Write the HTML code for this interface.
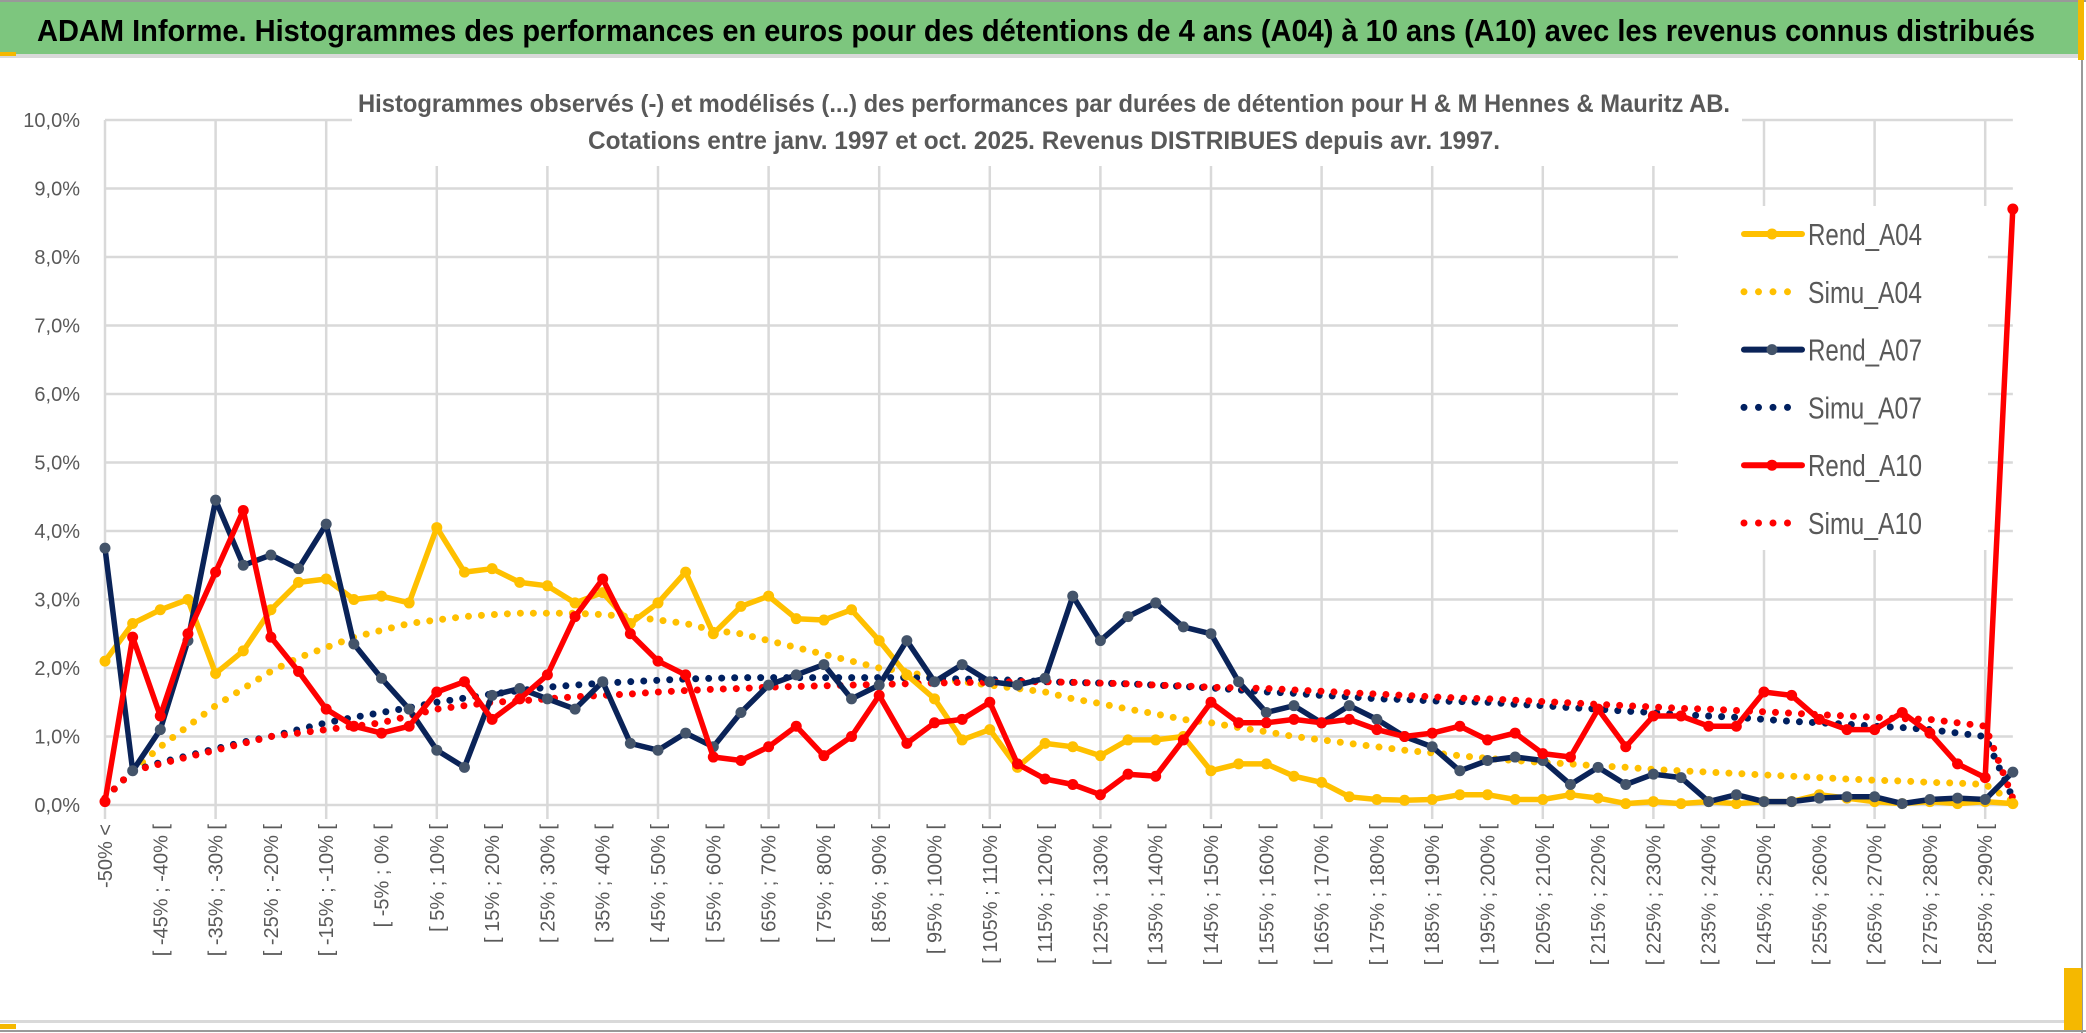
<!DOCTYPE html>
<html><head><meta charset="utf-8"><style>
html,body{margin:0;padding:0;background:#fff}
#wrap{position:relative;width:2086px;height:1033px;overflow:hidden;background:#fff}
svg text{font-family:"Liberation Sans",sans-serif}
</style></head><body>
<div id="wrap">
<svg id="chart" width="2086" height="1033" viewBox="0 0 2086 1033">
<rect x="0" y="0" width="2086" height="1033" fill="#fff"/>
<rect x="0" y="2" width="2082" height="52" fill="#7dc67e"/>
<line x1="0" y1="1" x2="2086" y2="1" stroke="#999" stroke-width="2"/>
<rect x="0" y="54" width="2082" height="4" fill="#d9d9d9"/>
<rect x="0" y="52" width="16" height="4" fill="#f5b800"/>
<line x1="2082" y1="0" x2="2082" y2="1033" stroke="#999" stroke-width="2"/>
<rect x="2078" y="0" width="6" height="60" fill="#f5b800"/>
<rect x="0" y="1020" width="2078" height="3" fill="#d9d9d9"/>
<rect x="2064" y="968" width="18" height="62" fill="#f5b800"/>
<rect x="0" y="1024" width="16" height="5" fill="#f5b800"/>
<line x1="0" y1="1031" x2="2086" y2="1031" stroke="#999" stroke-width="2"/>
<text x="37" y="41" font-size="31" font-weight="bold" fill="#000" textLength="1998" lengthAdjust="spacingAndGlyphs">ADAM Informe. Histogrammes des performances en euros pour des détentions de 4 ans (A04) à 10 ans (A10) avec les revenus connus distribués</text>
<g id="grid"></g>
<rect x="352" y="80" width="1390" height="86" fill="#fff"/>
<text x="1044" y="112" font-size="25" font-weight="bold" fill="#595959" text-anchor="middle" textLength="1372" lengthAdjust="spacingAndGlyphs">Histogrammes observés (-) et modélisés (...) des performances par durées de détention pour H &amp; M Hennes &amp; Mauritz AB.</text>
<text x="1044" y="149" font-size="25" font-weight="bold" fill="#595959" text-anchor="middle" textLength="912" lengthAdjust="spacingAndGlyphs">Cotations entre janv. 1997 et oct. 2025. Revenus DISTRIBUES depuis avr. 1997.</text>
<g id="yaxis"></g>
<g id="xaxis"></g>
<rect x="1678" y="206" width="310" height="344" fill="#fff"/>
<g id="series"></g>
<g id="legend"></g>
</svg>
</div>
<script>
const yTicks = [0,1,2,3,4,5,6,7,8,9,10];
const yTickLabels = ["0,0%","1,0%","2,0%","3,0%","4,0%","5,0%","6,0%","7,0%","8,0%","9,0%","10,0%"];
const categories = (function(){const a=["-50% <"];for(let k=-50;k<=290;k+=5){a.push("[ "+k+"% ; "+(k+5)+"% [");}return a;})();
const rendA04 = [2.1,2.65,2.85,3.0,1.92,2.25,2.85,3.25,3.3,3.0,3.05,2.95,4.05,3.4,3.45,3.25,3.2,2.95,3.1,2.65,2.95,3.4,2.5,2.9,3.05,2.72,2.7,2.85,2.4,1.9,1.55,0.95,1.1,0.55,0.9,0.85,0.72,0.95,0.95,1.0,0.5,0.6,0.6,0.42,0.33,0.12,0.08,0.07,0.08,0.15,0.15,0.08,0.08,0.15,0.1,0.02,0.05,0.02,0.05,0.02,0.05,0.05,0.15,0.1,0.05,0.02,0.05,0.02,0.05,0.02];
const simuA04 = [0.1,0.5,0.85,1.15,1.45,1.7,1.95,2.15,2.3,2.45,2.55,2.65,2.7,2.75,2.78,2.8,2.8,2.8,2.78,2.75,2.7,2.65,2.55,2.5,2.4,2.3,2.2,2.1,2.0,1.95,1.85,1.8,1.75,1.7,1.65,1.55,1.48,1.4,1.33,1.25,1.2,1.13,1.07,1.0,0.95,0.9,0.85,0.8,0.76,0.72,0.68,0.65,0.62,0.6,0.57,0.55,0.52,0.5,0.48,0.46,0.44,0.42,0.4,0.38,0.36,0.35,0.33,0.32,0.3,0.05];
const rendA07 = [3.75,0.5,1.1,2.4,4.45,3.5,3.65,3.45,4.1,2.35,1.85,1.4,0.8,0.55,1.6,1.7,1.55,1.4,1.8,0.9,0.8,1.05,0.85,1.35,1.75,1.9,2.05,1.55,1.75,2.4,1.8,2.05,1.8,1.75,1.85,3.05,2.4,2.75,2.95,2.6,2.5,1.8,1.35,1.45,1.2,1.45,1.25,1.0,0.85,0.5,0.65,0.7,0.65,0.3,0.55,0.3,0.45,0.4,0.05,0.15,0.05,0.05,0.1,0.12,0.12,0.02,0.08,0.1,0.08,0.48];
const simuA07 = [0.1,0.5,0.62,0.72,0.82,0.92,1.0,1.1,1.2,1.28,1.35,1.42,1.5,1.56,1.62,1.67,1.72,1.75,1.78,1.8,1.82,1.84,1.85,1.86,1.86,1.86,1.86,1.86,1.86,1.86,1.85,1.84,1.83,1.82,1.8,1.79,1.78,1.77,1.75,1.73,1.71,1.68,1.65,1.63,1.6,1.58,1.55,1.54,1.52,1.51,1.5,1.47,1.45,1.42,1.4,1.37,1.35,1.32,1.3,1.28,1.25,1.22,1.2,1.18,1.15,1.13,1.1,1.05,1.0,0.1];
const rendA10 = [0.05,2.45,1.3,2.5,3.4,4.3,2.45,1.95,1.4,1.15,1.05,1.15,1.65,1.8,1.25,1.55,1.9,2.75,3.3,2.5,2.1,1.9,0.7,0.65,0.85,1.15,0.72,1.0,1.6,0.9,1.2,1.25,1.5,0.6,0.38,0.3,0.15,0.45,0.42,0.95,1.5,1.2,1.2,1.25,1.2,1.25,1.1,1.0,1.05,1.15,0.95,1.05,0.75,0.7,1.4,0.85,1.3,1.3,1.15,1.15,1.65,1.6,1.25,1.1,1.1,1.35,1.05,0.6,0.4,8.7];
const simuA10 = [0.1,0.5,0.6,0.7,0.8,0.9,1.0,1.05,1.1,1.15,1.2,1.3,1.4,1.45,1.5,1.52,1.55,1.58,1.6,1.62,1.65,1.67,1.69,1.7,1.72,1.73,1.74,1.75,1.76,1.77,1.78,1.79,1.79,1.8,1.8,1.79,1.78,1.77,1.75,1.74,1.72,1.71,1.7,1.68,1.66,1.64,1.62,1.6,1.58,1.56,1.55,1.53,1.51,1.49,1.47,1.45,1.43,1.41,1.4,1.38,1.36,1.34,1.32,1.3,1.28,1.26,1.25,1.2,1.15,0.1];

const NS="http://www.w3.org/2000/svg";
const X0=105, DX=27.65, Y0=805, PER=68.5;
function xs(i){return X0+i*DX;}
function ys(v){return Y0-v*PER;}
function mk(tag,attrs,parent){const e=document.createElementNS(NS,tag);for(const k in attrs)e.setAttribute(k,attrs[k]);parent.appendChild(e);return e;}

const grid=document.getElementById('grid');
const xEnd=xs(categories.length-1);
yTicks.forEach(function(t){
  const l=mk('line',{x1:X0,x2:xEnd,y1:ys(t),y2:ys(t),stroke:'#d9d9d9','stroke-width':2.5},grid);
  
  
});
for(let i=0;i<categories.length;i+=4){
  const l=mk('line',{x1:xs(i),x2:xs(i),y1:ys(10),y2:ys(0)+14,stroke:'#d9d9d9','stroke-width':2.5},grid);
  
  
}
const ya=document.getElementById('yaxis');
yTicks.forEach(function(t,k){
  const tx=mk('text',{x:80,y:ys(t)+7,'font-size':20,fill:'#595959','text-anchor':'end'},ya);
  tx.textContent=yTickLabels[k];
  
  
});
const xa=document.getElementById('xaxis');
categories.forEach(function(c,i){
  if(!(i===0||(i%2===0&&i<categories.length-1)))return;
  const x=xs(i)+7, y=824;
  const tx=mk('text',{x:x,y:y,'font-size':20,fill:'#595959','text-anchor':'end',transform:'rotate(-90 '+x+' '+y+')'},xa);
  tx.textContent=c;
  
  
});
const sg=document.getElementById('series');
function pts(arr){return arr.map(function(v,i){return xs(i).toFixed(1)+','+ys(v).toFixed(1);}).join(' ');}
function dotted(arr,color,name){
  const p=mk('polyline',{points:pts(arr),fill:'none',stroke:color,'stroke-width':7,'stroke-linecap':'round','stroke-dasharray':'0 13'},sg);
  
  
}
function solid(arr,color,mcolor,name){
  const g=mk('g',{},sg);
  
  
  mk('polyline',{points:pts(arr),fill:'none',stroke:color,'stroke-width':5.5,'stroke-linejoin':'round'},g);
  arr.forEach(function(v,i){
    const c=mk('circle',{cx:xs(i),cy:ys(v),r:5.5,fill:mcolor},g);
    
    
  });
}
dotted(simuA04,'#ffc000','simu-a04-line');
dotted(simuA07,'#002060','simu-a07-line');
dotted(simuA10,'#ff0000','simu-a10-line');
solid(rendA04,'#ffc000','#ffc000','rend-a04-line');
solid(rendA07,'#0a2358','#44546a','rend-a07-line');
solid(rendA10,'#ff0000','#ff0000','rend-a10-line');

const lg=document.getElementById('legend');
const items=[["Rend_A04",'#ffc000','#ffc000',false],["Simu_A04",'#ffc000',null,true],["Rend_A07",'#0a2358','#44546a',false],["Simu_A07",'#002060',null,true],["Rend_A10",'#ff0000','#ff0000',false],["Simu_A10",'#ff0000',null,true]];
items.forEach(function(it,k){
  const y=234+k*57.8;
  const g=mk('g',{},lg);
  
  
  if(it[3]){
    mk('line',{x1:1744,x2:1800,y1:y,y2:y,stroke:it[1],'stroke-width':7,'stroke-linecap':'round','stroke-dasharray':'0 14.5'},g);
  } else {
    mk('line',{x1:1744,x2:1802,y1:y,y2:y,stroke:it[1],'stroke-width':6,'stroke-linecap':'round'},g);
    mk('circle',{cx:1772,cy:y,r:5.5,fill:it[2]},g);
  }
  const t=mk('text',{x:1808,y:y+11,'font-size':31,fill:'#595959',textLength:114,lengthAdjust:'spacingAndGlyphs'},g);
  t.textContent=it[0];
});
</script>
</body></html>
